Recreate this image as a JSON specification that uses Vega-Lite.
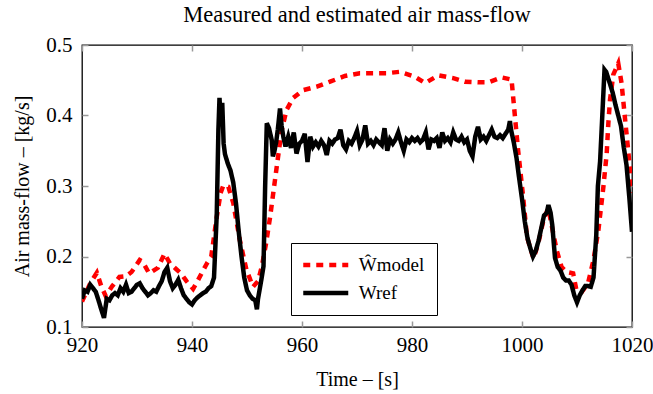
{
  "$schema": "https://vega.github.io/schema/vega-lite/v6.json",
  "width": 550,
  "height": 282,
  "autosize": {"type": "none"},
  "padding": {"left": 82, "top": 45, "right": 21, "bottom": 67},
  "title": {"text": "Measured and estimated air mass-flow", "font": "Liberation Serif", "fontSize": 22.5, "fontWeight": "normal", "color": "#000", "offset": 8},
  "config": {
    "view": {"stroke": "#000", "strokeWidth": 1.3},
    "axis": {
      "domain": false, "grid": false, "labelFlush": false,
      "tickSize": -6, "tickColor": "#999999", "tickWidth": 1.5,
      "labelFont": "Liberation Serif", "labelFontSize": 21, "labelColor": "#000",
      "titleFont": "Liberation Serif", "titleFontSize": 20, "titleFontWeight": "normal", "titleColor": "#000"
    },
    "legend": {
      "orient": "none", "legendX": 209, "legendY": 198,
      "strokeColor": "#000", "strokeWidth": 1, "fillColor": "#fff", "padding": 12,
      "symbolType": "M-3,0H3", "symbolSize": 225, "symbolStrokeWidth": 4.5, "symbolOffset": 12.75,
      "labelFont": "Liberation Serif", "labelFontSize": 19, "labelColor": "#000",
      "rowPadding": 8, "labelOffset": 23
    }
  },
  "datasets": {
    "d": [
      {"s":"m","t":920.0,"v":0.136},{"s":"m","t":920.8,"v":0.150},{"s":"m","t":921.5,"v":0.162},{"s":"m","t":922.7,"v":0.177},{"s":"m","t":923.5,"v":0.158},{"s":"m","t":924.3,"v":0.144},{"s":"m","t":925.5,"v":0.158},{"s":"m","t":926.8,"v":0.171},{"s":"m","t":928.0,"v":0.172},{"s":"m","t":929.0,"v":0.178},{"s":"m","t":930.5,"v":0.195},{"s":"m","t":931.0,"v":0.193},{"s":"m","t":932.2,"v":0.176},{"s":"m","t":933.0,"v":0.180},{"s":"m","t":933.8,"v":0.184},{"s":"m","t":935.0,"v":0.204},{"s":"m","t":936.0,"v":0.190},{"s":"m","t":937.0,"v":0.183},{"s":"m","t":938.0,"v":0.176},{"s":"m","t":939.0,"v":0.165},{"s":"m","t":940.2,"v":0.154},{"s":"m","t":941.0,"v":0.165},{"s":"m","t":941.8,"v":0.177},{"s":"m","t":942.7,"v":0.190},{"s":"m","t":943.5,"v":0.200},{"s":"m","t":944.5,"v":0.256},{"s":"m","t":945.2,"v":0.290},{"s":"m","t":945.7,"v":0.301},{"s":"m","t":946.6,"v":0.299},{"s":"m","t":947.5,"v":0.276},{"s":"m","t":948.7,"v":0.223},{"s":"m","t":949.9,"v":0.181},{"s":"m","t":951.1,"v":0.157},{"s":"m","t":952.0,"v":0.165},{"s":"m","t":952.7,"v":0.186},{"s":"m","t":953.5,"v":0.220},{"s":"m","t":954.2,"v":0.256},{"s":"m","t":955.4,"v":0.327},{"s":"m","t":956.3,"v":0.379},{"s":"m","t":957.2,"v":0.408},{"s":"m","t":958.4,"v":0.425},{"s":"m","t":960.2,"v":0.436},{"s":"m","t":962.7,"v":0.441},{"s":"m","t":965.1,"v":0.448},{"s":"m","t":967.8,"v":0.456},{"s":"m","t":970.5,"v":0.460},{"s":"m","t":973.0,"v":0.460},{"s":"m","t":975.4,"v":0.460},{"s":"m","t":977.8,"v":0.462},{"s":"m","t":980.5,"v":0.455},{"s":"m","t":982.4,"v":0.446},{"s":"m","t":984.8,"v":0.457},{"s":"m","t":987.5,"v":0.453},{"s":"m","t":989.6,"v":0.448},{"s":"m","t":992.1,"v":0.447},{"s":"m","t":993.9,"v":0.447},{"s":"m","t":996.3,"v":0.454},{"s":"m","t":998.1,"v":0.451},{"s":"m","t":998.7,"v":0.400},{"s":"m","t":999.3,"v":0.350},{"s":"m","t":1000.2,"v":0.285},{"s":"m","t":1000.9,"v":0.228},{"s":"m","t":1002.1,"v":0.197},{"s":"m","t":1003.0,"v":0.220},{"s":"m","t":1004.0,"v":0.255},{"s":"m","t":1004.8,"v":0.268},{"s":"m","t":1005.5,"v":0.240},{"s":"m","t":1006.3,"v":0.209},{"s":"m","t":1007.2,"v":0.185},{"s":"m","t":1008.1,"v":0.178},{"s":"m","t":1009.3,"v":0.176},{"s":"m","t":1009.9,"v":0.152},{"s":"m","t":1010.9,"v":0.150},{"s":"m","t":1012.0,"v":0.162},{"s":"m","t":1013.0,"v":0.195},{"s":"m","t":1013.9,"v":0.238},{"s":"m","t":1014.8,"v":0.299},{"s":"m","t":1015.4,"v":0.346},{"s":"m","t":1015.7,"v":0.389},{"s":"m","t":1016.0,"v":0.422},{"s":"m","t":1016.6,"v":0.458},{"s":"m","t":1017.5,"v":0.474},{"s":"m","t":1018.1,"v":0.446},{"s":"m","t":1018.7,"v":0.398},{"s":"m","t":1019.3,"v":0.351},{"s":"m","t":1019.9,"v":0.300},{"s":"m","t":1020.0,"v":0.290},
      {"s":"r","t":920.0,"v":0.140},{"s":"r","t":920.5,"v":0.152},{"s":"r","t":921.0,"v":0.150},{"s":"r","t":921.5,"v":0.160},{"s":"r","t":922.0,"v":0.155},{"s":"r","t":922.5,"v":0.150},{"s":"r","t":923.0,"v":0.138},{"s":"r","t":923.5,"v":0.125},{"s":"r","t":924.0,"v":0.113},{"s":"r","t":924.5,"v":0.140},{"s":"r","t":925.0,"v":0.138},{"s":"r","t":925.5,"v":0.145},{"s":"r","t":926.0,"v":0.148},{"s":"r","t":926.5,"v":0.145},{"s":"r","t":927.0,"v":0.155},{"s":"r","t":927.5,"v":0.150},{"s":"r","t":928.0,"v":0.160},{"s":"r","t":928.5,"v":0.148},{"s":"r","t":929.0,"v":0.150},{"s":"r","t":929.5,"v":0.155},{"s":"r","t":930.0,"v":0.160},{"s":"r","t":930.5,"v":0.162},{"s":"r","t":931.0,"v":0.155},{"s":"r","t":931.5,"v":0.150},{"s":"r","t":932.0,"v":0.145},{"s":"r","t":932.5,"v":0.148},{"s":"r","t":933.0,"v":0.152},{"s":"r","t":933.5,"v":0.150},{"s":"r","t":934.0,"v":0.158},{"s":"r","t":934.5,"v":0.165},{"s":"r","t":935.0,"v":0.178},{"s":"r","t":935.5,"v":0.184},{"s":"r","t":936.0,"v":0.165},{"s":"r","t":936.5,"v":0.155},{"s":"r","t":937.0,"v":0.160},{"s":"r","t":937.5,"v":0.167},{"s":"r","t":938.0,"v":0.155},{"s":"r","t":938.5,"v":0.145},{"s":"r","t":939.0,"v":0.140},{"s":"r","t":939.5,"v":0.135},{"s":"r","t":940.0,"v":0.132},{"s":"r","t":940.5,"v":0.138},{"s":"r","t":941.0,"v":0.142},{"s":"r","t":941.5,"v":0.145},{"s":"r","t":942.0,"v":0.148},{"s":"r","t":942.5,"v":0.150},{"s":"r","t":943.0,"v":0.155},{"s":"r","t":943.5,"v":0.158},{"s":"r","t":944.0,"v":0.170},{"s":"r","t":944.5,"v":0.260},{"s":"r","t":944.8,"v":0.380},{"s":"r","t":945.0,"v":0.425},{"s":"r","t":945.25,"v":0.390},{"s":"r","t":945.5,"v":0.418},{"s":"r","t":945.75,"v":0.360},{"s":"r","t":946.0,"v":0.345},{"s":"r","t":946.5,"v":0.332},{"s":"r","t":947.0,"v":0.322},{"s":"r","t":947.5,"v":0.305},{"s":"r","t":948.0,"v":0.275},{"s":"r","t":948.5,"v":0.235},{"s":"r","t":949.0,"v":0.200},{"s":"r","t":949.5,"v":0.170},{"s":"r","t":950.0,"v":0.152},{"s":"r","t":950.5,"v":0.145},{"s":"r","t":951.0,"v":0.140},{"s":"r","t":951.5,"v":0.138},{"s":"r","t":951.8,"v":0.125},{"s":"r","t":952.0,"v":0.140},{"s":"r","t":952.5,"v":0.162},{"s":"r","t":953.0,"v":0.186},{"s":"r","t":953.3,"v":0.300},{"s":"r","t":953.6,"v":0.389},{"s":"r","t":954.0,"v":0.382},{"s":"r","t":954.5,"v":0.365},{"s":"r","t":954.7,"v":0.342},{"s":"r","t":955.0,"v":0.350},{"s":"r","t":955.3,"v":0.362},{"s":"r","t":955.6,"v":0.380},{"s":"r","t":956.0,"v":0.410},{"s":"r","t":956.3,"v":0.385},{"s":"r","t":956.6,"v":0.370},{"s":"r","t":957.0,"v":0.356},
      {"s":"r","t":957.5,"v":0.370},{"s":"r","t":958.0,"v":0.354},{"s":"r","t":958.5,"v":0.376},{"s":"r","t":959.0,"v":0.346},{"s":"r","t":959.5,"v":0.360},{"s":"r","t":960.0,"v":0.364},{"s":"r","t":960.5,"v":0.374},{"s":"r","t":961.0,"v":0.334},{"s":"r","t":961.5,"v":0.370},{"s":"r","t":962.0,"v":0.356},{"s":"r","t":962.5,"v":0.362},{"s":"r","t":963.0,"v":0.356},{"s":"r","t":963.5,"v":0.364},{"s":"r","t":964.0,"v":0.358},{"s":"r","t":964.5,"v":0.344},{"s":"r","t":965.0,"v":0.364},{"s":"r","t":965.5,"v":0.360},{"s":"r","t":966.0,"v":0.366},{"s":"r","t":966.5,"v":0.368},{"s":"r","t":967.0,"v":0.380},{"s":"r","t":967.5,"v":0.358},{"s":"r","t":968.0,"v":0.352},{"s":"r","t":968.5,"v":0.364},{"s":"r","t":969.0,"v":0.360},{"s":"r","t":969.5,"v":0.368},{"s":"r","t":970.0,"v":0.378},{"s":"r","t":970.5,"v":0.358},{"s":"r","t":971.0,"v":0.366},{"s":"r","t":971.5,"v":0.386},{"s":"r","t":972.0,"v":0.360},{"s":"r","t":972.5,"v":0.364},{"s":"r","t":973.0,"v":0.358},{"s":"r","t":973.5,"v":0.366},{"s":"r","t":974.0,"v":0.362},{"s":"r","t":974.5,"v":0.358},{"s":"r","t":975.0,"v":0.382},{"s":"r","t":975.5,"v":0.350},{"s":"r","t":976.0,"v":0.366},{"s":"r","t":976.5,"v":0.360},{"s":"r","t":977.0,"v":0.366},{"s":"r","t":977.5,"v":0.376},{"s":"r","t":978.0,"v":0.362},{"s":"r","t":978.5,"v":0.350},{"s":"r","t":979.0,"v":0.366},{"s":"r","t":979.5,"v":0.362},{"s":"r","t":980.0,"v":0.368},{"s":"r","t":980.5,"v":0.364},{"s":"r","t":981.0,"v":0.368},{"s":"r","t":981.5,"v":0.362},{"s":"r","t":982.0,"v":0.366},{"s":"r","t":982.5,"v":0.376},{"s":"r","t":983.0,"v":0.352},{"s":"r","t":983.5,"v":0.366},{"s":"r","t":984.0,"v":0.364},{"s":"r","t":984.5,"v":0.368},{"s":"r","t":985.0,"v":0.354},{"s":"r","t":985.5,"v":0.376},{"s":"r","t":986.0,"v":0.364},{"s":"r","t":986.5,"v":0.368},{"s":"r","t":987.0,"v":0.362},{"s":"r","t":987.5,"v":0.376},{"s":"r","t":988.0,"v":0.366},{"s":"r","t":988.5,"v":0.364},{"s":"r","t":989.0,"v":0.370},{"s":"r","t":989.5,"v":0.362},{"s":"r","t":990.0,"v":0.366},{"s":"r","t":990.5,"v":0.350},{"s":"r","t":991.0,"v":0.342},{"s":"r","t":991.5,"v":0.370},{"s":"r","t":992.0,"v":0.384},{"s":"r","t":992.5,"v":0.366},{"s":"r","t":993.0,"v":0.370},{"s":"r","t":993.5,"v":0.364},{"s":"r","t":994.0,"v":0.372},{"s":"r","t":994.5,"v":0.380},{"s":"r","t":995.0,"v":0.370},{"s":"r","t":995.5,"v":0.368},{"s":"r","t":996.0,"v":0.372},{"s":"r","t":996.5,"v":0.368},{"s":"r","t":997.0,"v":0.374},{"s":"r","t":997.5,"v":0.380},{"s":"r","t":997.8,"v":0.392},{"s":"r","t":998.0,"v":0.380},{"s":"r","t":998.5,"v":0.362},{"s":"r","t":999.0,"v":0.340},{"s":"r","t":999.5,"v":0.310},{"s":"r","t":1000.0,"v":0.282},{"s":"r","t":1000.5,"v":0.250},{"s":"r","t":1001.0,"v":0.226},{"s":"r","t":1001.5,"v":0.212},{"s":"r","t":1002.0,"v":0.200},{"s":"r","t":1002.5,"v":0.208},{"s":"r","t":1003.0,"v":0.222},{"s":"r","t":1003.5,"v":0.240},{"s":"r","t":1004.0,"v":0.258},{"s":"r","t":1004.5,"v":0.262},{"s":"r","t":1004.8,"v":0.273},{"s":"r","t":1005.2,"v":0.262},{"s":"r","t":1005.5,"v":0.245},{"s":"r","t":1006.0,"v":0.198},{"s":"r","t":1006.5,"v":0.185},{"s":"r","t":1007.0,"v":0.180},{"s":"r","t":1007.5,"v":0.170},{"s":"r","t":1008.0,"v":0.166},{"s":"r","t":1008.5,"v":0.166},{"s":"r","t":1009.0,"v":0.160},{"s":"r","t":1009.5,"v":0.145},{"s":"r","t":1010.0,"v":0.135},{"s":"r","t":1010.5,"v":0.145},{"s":"r","t":1011.0,"v":0.152},{"s":"r","t":1011.5,"v":0.158},{"s":"r","t":1012.0,"v":0.158},{"s":"r","t":1012.5,"v":0.157},{"s":"r","t":1013.0,"v":0.170},{"s":"r","t":1013.5,"v":0.230},{"s":"r","t":1013.8,"v":0.300},{"s":"r","t":1014.2,"v":0.335},{"s":"r","t":1014.6,"v":0.400},{"s":"r","t":1015.0,"v":0.465},{"s":"r","t":1015.3,"v":0.462},{"s":"r","t":1015.7,"v":0.452},{"s":"r","t":1016.0,"v":0.445},{"s":"r","t":1016.5,"v":0.432},{"s":"r","t":1017.0,"v":0.415},{"s":"r","t":1017.5,"v":0.400},{"s":"r","t":1018.0,"v":0.385},{"s":"r","t":1018.5,"v":0.355},{"s":"r","t":1019.0,"v":0.330},{"s":"r","t":1019.5,"v":0.285},{"s":"r","t":1020.0,"v":0.235}
    ]
  },
  "data": {"name": "d"},
  "layer": [
    {
      "transform": [{"filter": "datum.s == 'm'"}],
      "mark": {"type": "line", "strokeWidth": 4.5, "clip": true},
      "encoding": {
        "x": {"field": "t", "type": "quantitative", "scale": {"domain": [920, 1020], "nice": false, "zero": false},
              "axis": {"orient": "bottom", "title": "Time – [s]", "values": [920, 940, 960, 980, 1000, 1020], "format": "d", "labelPadding": 13, "titlePadding": 14}},
        "y": {"field": "v", "type": "quantitative", "scale": {"domain": [0.1, 0.5], "nice": false, "zero": false},
              "axis": {"orient": "left", "title": "Air mass-flow – [kg/s]", "values": [0.1, 0.2, 0.3, 0.4, 0.5], "format": ".1f", "labelPadding": 16, "titlePadding": 13}},
        "color": {"field": "s", "type": "nominal", "scale": {"domain": ["m", "r"], "range": ["#ff0000", "#000000"]},
                  "legend": {"title": null, "labelExpr": "datum.label == 'm' ? 'Ŵmodel' : 'Wref'"}},
        "strokeDash": {"field": "s", "type": "nominal", "scale": {"domain": ["m", "r"], "range": [[7, 6], [1, 0]]},
                  "legend": {"title": null, "labelExpr": "datum.label == 'm' ? 'Ŵmodel' : 'Wref'"}}
      }
    },
    {
      "transform": [{"filter": "datum.s == 'r'"}],
      "mark": {"type": "line", "strokeWidth": 4.5, "clip": true},
      "encoding": {
        "x": {"field": "t", "type": "quantitative", "scale": {"domain": [920, 1020], "nice": false, "zero": false},
              "axis": {"orient": "top", "title": null, "labels": false, "values": [920, 940, 960, 980, 1000, 1020]}},
        "y": {"field": "v", "type": "quantitative", "scale": {"domain": [0.1, 0.5], "nice": false, "zero": false},
              "axis": {"orient": "right", "title": null, "labels": false, "values": [0.1, 0.2, 0.3, 0.4, 0.5]}},
        "color": {"field": "s", "type": "nominal", "scale": {"domain": ["m", "r"], "range": ["#ff0000", "#000000"]},
                  "legend": {"title": null, "labelExpr": "datum.label == 'm' ? 'Ŵmodel' : 'Wref'"}},
        "strokeDash": {"field": "s", "type": "nominal", "scale": {"domain": ["m", "r"], "range": [[7, 6], [1, 0]]},
                  "legend": {"title": null, "labelExpr": "datum.label == 'm' ? 'Ŵmodel' : 'Wref'"}}
      }
    }
  ],
  "resolve": {"scale": {"x": "independent", "y": "independent"}}
}
